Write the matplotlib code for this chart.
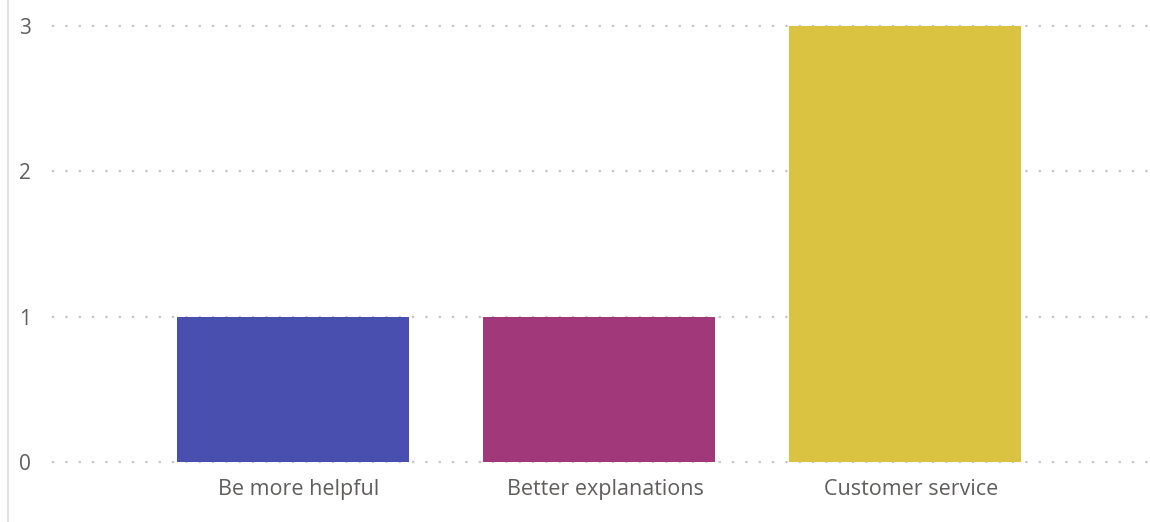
import matplotlib
matplotlib.use("Agg")
import matplotlib.pyplot as plt
from matplotlib.lines import Line2D
from matplotlib.transforms import ScaledTranslation

categories = ["Be more helpful", "Better explanations", "Customer service"]
counts = [1, 1, 3]
bar_colors = ["#484FAF", "#A0387A", "#DAC340"]
y_ticks = [0, 1, 2, 3]

plt.rcParams["font.family"] = ["Open Sans", "DejaVu Sans"]

W, H = 1150, 522
fig = plt.figure(figsize=(W / 100, H / 100), dpi=100)

# axes box in pixel terms: x from 52 to 1148, y (0 at 462, 3 at 26)
x0, x1 = 52, 1148
ytop, ybot = 26, 462
pad = 0.02
unit = (ybot - ytop) / 3.0
ax_bottom_px = ybot + pad * unit
ax_top_px = ytop - pad * unit
ax = fig.add_axes([x0 / W, 1 - ax_bottom_px / H, (x1 - x0) / W,
                   (ax_bottom_px - ax_top_px) / H])

xs = list(range(len(categories)))
ax.bar(xs, counts, width=0.758, color=bar_colors, zorder=2)

ax.set_xlim(-0.788, 2.794)
ax.set_ylim(-pad, 3 + pad)
ax.set_yticks(y_ticks)
ax.set_yticklabels([str(t) for t in y_ticks])
ax.set_xticks(xs)
ax.set_xticklabels(categories)

ax.grid(axis="y", color="#C4C4C4", linewidth=1.6, linestyle=(0, (1, 5.0)), zorder=1)
ax.grid(axis="x", visible=False)

for s in ax.spines.values():
    s.set_visible(False)

ax.tick_params(axis="y", length=0, pad=15, labelsize=15, labelcolor="#605E5C")
ax.tick_params(axis="x", length=0, pad=10, labelsize=15.5, labelcolor="#605E5C")

# category labels sit slightly right of the bar centres
shift = ScaledTranslation(6 / 100, 0, fig.dpi_scale_trans)
for lbl in ax.get_xticklabels():
    lbl.set_transform(lbl.get_transform() + shift)

# thin frame line on the left edge of the visual
fig.add_artist(Line2D([7.5 / W, 7.5 / W], [0, 1], transform=fig.transFigure,
                      color="#DADADA", linewidth=1.2))

fig.savefig("out.png", dpi=100, facecolor="white")
